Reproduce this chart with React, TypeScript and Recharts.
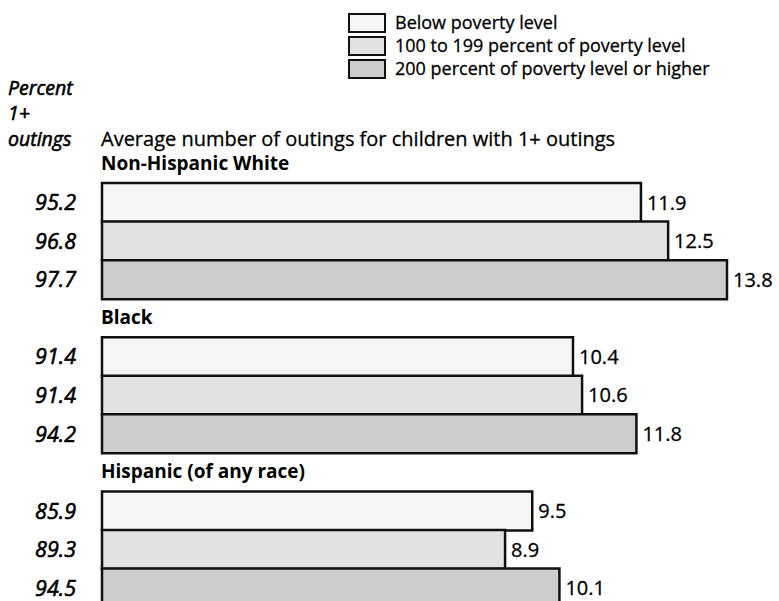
import React from 'react';
import { BarChart, Bar, XAxis, YAxis, Cell, LabelList, Legend } from 'recharts';

const groupNames = ['Non-Hispanic White', 'Black', 'Hispanic (of any race)'];
const levelNames = [
  'Below poverty level',
  '100 to 199 percent of poverty level',
  '200 percent of poverty level or higher',
];
const whiteAvg = [11.9, 12.5, 13.8];
const blackAvg = [10.4, 10.6, 11.8];
const hispanicAvg = [9.5, 8.9, 10.1];
const whitePct = [95.2, 96.8, 97.7];
const blackPct = [91.4, 91.4, 94.2];
const hispanicPct = [85.9, 89.3, 94.5];

const levelFills = ['#f5f5f5', '#e2e2e2', '#cdcdcd'];
const FONT = '"Open Sans", "DejaVu Sans", sans-serif';

type Row = { key: string; kind: 'heading' | 'bar'; label?: string; value: number | null; pct?: number; level?: number };

const groupAvgs = [whiteAvg, blackAvg, hispanicAvg];
const groupPcts = [whitePct, blackPct, hispanicPct];

const rows: Row[] = [];
groupNames.forEach((g, gi) => {
  rows.push({ key: 'h' + gi, kind: 'heading', label: g, value: null });
  groupAvgs[gi].forEach((v, li) => {
    rows.push({ key: 'r' + gi + '_' + li, kind: 'bar', value: v, pct: groupPcts[gi][li], level: li });
  });
});

const RowTick = (props: any) => {
  const { y, payload } = props;
  const row = rows.find((r) => r.key === payload.value);
  if (!row) return null;
  if (row.kind === 'heading') {
    return (
      <text x={101} y={y} dy={6} fontFamily={FONT} fontWeight={700} fontSize={19} fill="#000">
        {row.label}
      </text>
    );
  }
  return (
    <text
      x={76}
      y={y}
      dy={8}
      textAnchor="end"
      fontFamily={FONT}
      fontStyle="italic"
      fontSize={21.5}
      fill="#000"
      stroke="#000"
      strokeWidth={0.6}
    >
      {row.pct!.toFixed(1)}
    </text>
  );
};

const LegendContent = () => (
  <div style={{ fontFamily: FONT, fontSize: 18, color: '#000' }}>
    {levelNames.map((name, i) => (
      <div key={name} style={{ display: 'flex', alignItems: 'center', height: 23 }}>
        <span
          style={{
            display: 'inline-block',
            width: 38,
            height: 20,
            border: '2px solid #111',
            background: levelFills[i],
            marginRight: 9,
            boxSizing: 'border-box',
          }}
        />
        <span style={{ lineHeight: '23px', WebkitTextStroke: '0.3px #000' }}>{name}</span>
      </div>
    ))}
  </div>
);

export default function App() {
  return (
    <div style={{ position: 'absolute', left: 0, top: 0, width: 779, height: 601, overflow: 'hidden', background: '#fff' }}>
      <BarChart
        width={779}
        height={607}
        data={rows}
        layout="vertical"
        margin={{ top: 144.5, right: 52, bottom: 0, left: 2 }}
        barCategoryGap={0}
        barGap={0}
      >
        <XAxis type="number" domain={[0, 13.8]} hide />
        <YAxis
          type="category"
          dataKey="key"
          width={100}
          axisLine={false}
          tickLine={false}
          interval={0}
          tick={<RowTick />}
        />
        <Legend
          layout="horizontal"
          verticalAlign="middle"
          align="center"
          content={<LegendContent />}
          wrapperStyle={{ position: 'absolute', top: 11, left: 348, width: 420 }}
        />
        <Bar dataKey="value" isAnimationActive={false} stroke="#111" strokeWidth={2.5}>
          {rows.map((r) => (
            <Cell key={r.key} fill={r.level === undefined ? 'none' : levelFills[r.level]} />
          ))}
          <LabelList
            dataKey="value"
            position="right"
            offset={6}
            fontSize={20}
            fontFamily={FONT}
            fill="#000"
            stroke="#000"
            strokeWidth={0.3}
            formatter={(v: any) => (v === null || v === undefined ? '' : Number(v).toFixed(1))}
          />
        </Bar>
      </BarChart>
      <svg width={779} height={601} style={{ position: 'absolute', left: 0, top: 0, pointerEvents: 'none' }}>
        <g fontFamily={FONT} fill="#000">
          <g fontSize={19.5} fontStyle="italic" stroke="#000" strokeWidth={0.6}>
            <text x={8} y={95}>Percent</text>
            <text x={8} y={120}>1+</text>
            <text x={8} y={146}>outings</text>
          </g>
          <text x={101} y={146} fontSize={20} stroke="#000" strokeWidth={0.3}>
            Average number of outings for children with 1+ outings
          </text>
        </g>
      </svg>
    </div>
  );
}
